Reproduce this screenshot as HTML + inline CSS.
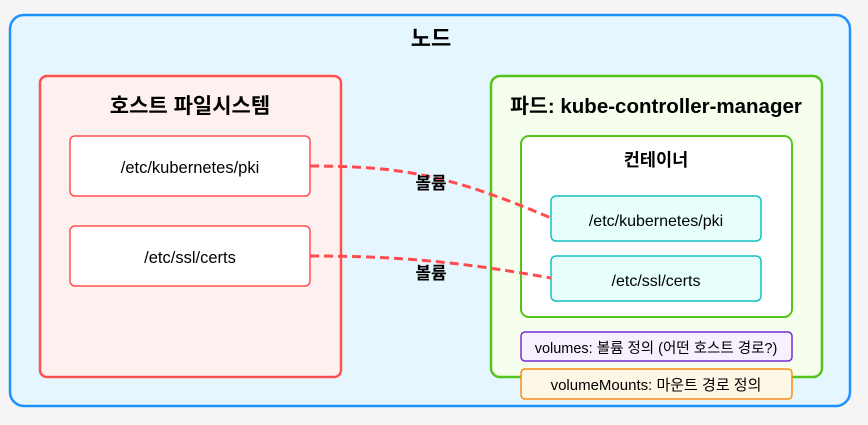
<!DOCTYPE html>
<html><head><meta charset="utf-8"><style>
body{margin:0;background:#f5f5f5;}
svg text{font-family:"Liberation Sans","Noto Sans CJK KR",sans-serif;}
</style></head><body>
<svg width="868" height="420" viewBox="0 0 868 420" xmlns="http://www.w3.org/2000/svg">
<rect x="10" y="15" width="840" height="391" rx="14" fill="#e6f6ff" stroke="#1e90ff" stroke-width="2.5"/>
<text x="431" y="46" text-anchor="middle" font-size="22" font-weight="bold">노드</text>
<rect x="40" y="76" width="301" height="301" rx="7" fill="#fff0f0" stroke="#ff5050" stroke-width="2.5"/>
<text x="190" y="113" text-anchor="middle" font-size="21" font-weight="bold">호스트 파일시스템</text>
<rect x="70" y="136" width="240" height="60" rx="5" fill="#fff" stroke="#ff5050" stroke-width="1.5"/>
<text x="190" y="173" text-anchor="middle" font-size="16.5">/etc/kubernetes/pki</text>
<rect x="70" y="226" width="240" height="60" rx="5" fill="#fff" stroke="#ff5050" stroke-width="1.5"/>
<text x="190" y="263" text-anchor="middle" font-size="16.5">/etc/ssl/certs</text>
<rect x="491" y="76" width="331" height="301" rx="9" fill="#f6ffed" stroke="#52c41a" stroke-width="2.5"/>
<text x="656" y="113" text-anchor="middle" font-size="20.5" font-weight="bold">파드: kube-controller-manager</text>
<rect x="521" y="136" width="271" height="181" rx="8" fill="#fff" stroke="#52c41a" stroke-width="2"/>
<text x="656" y="166" text-anchor="middle" font-size="17.5" font-weight="bold">컨테이너</text>
<rect x="551" y="196" width="210" height="45" rx="5" fill="#e6fffb" stroke="#13c2c2" stroke-width="1.5"/>
<text x="656" y="226" text-anchor="middle" font-size="16">/etc/kubernetes/pki</text>
<rect x="551" y="256" width="210" height="45" rx="5" fill="#e6fffb" stroke="#13c2c2" stroke-width="1.5"/>
<text x="656" y="286" text-anchor="middle" font-size="16">/etc/ssl/certs</text>
<rect x="521" y="332" width="271" height="29" rx="4" fill="#f9f0ff" stroke="#722ed1" stroke-width="1.5"/>
<text x="656" y="353" text-anchor="middle" font-size="14.5">volumes: 볼륨 정의 (어떤 호스트 경로?)</text>
<rect x="521" y="369" width="271" height="30" rx="4" fill="#fff7e6" stroke="#fa8c16" stroke-width="1.5"/>
<text x="656" y="390" text-anchor="middle" font-size="15">volumeMounts: 마운트 경로 정의</text>
<path d="M310,166 C400,166 450,175 551,218" fill="none" stroke="#ff4d4f" stroke-width="3" stroke-dasharray="9,5"/>
<path d="M310,256 C400,256 460,262 551,278" fill="none" stroke="#ff4d4f" stroke-width="3" stroke-dasharray="9,5"/>
<text x="431" y="189" text-anchor="middle" font-size="17" font-weight="bold">볼륨</text>
<text x="431" y="279" text-anchor="middle" font-size="17" font-weight="bold">볼륨</text>
</svg>
</body></html>
